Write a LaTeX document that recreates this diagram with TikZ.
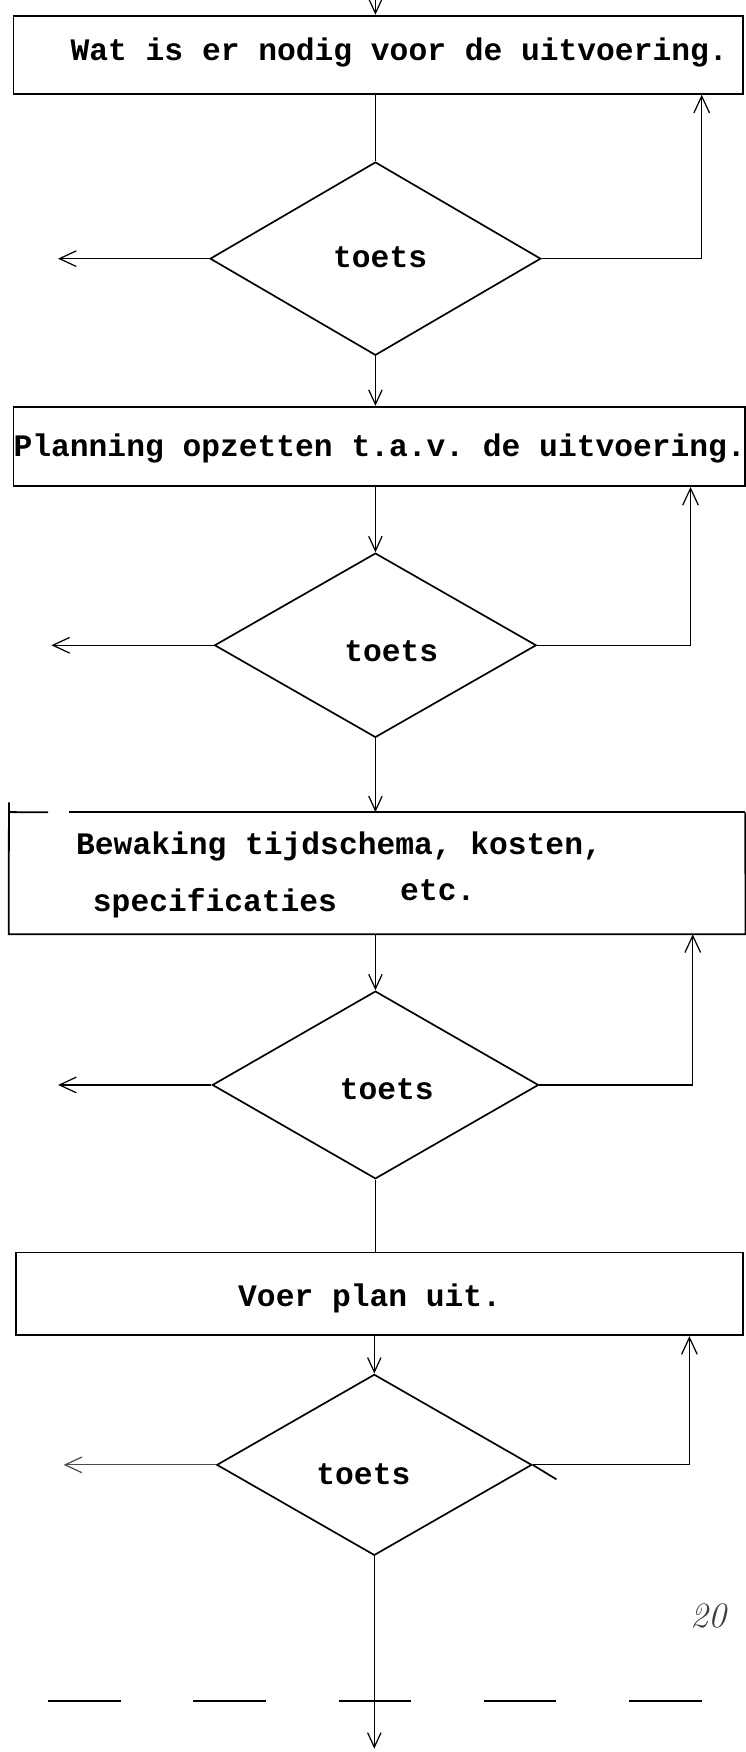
\documentclass[tikz,border=0pt]{standalone}
\usepackage{fontspec}
\setmonofont{Liberation Mono}
\usetikzlibrary{arrows.meta,shapes.geometric}

\begin{document}
\begin{tikzpicture}[x=1pt,y=-1pt,
  boxline/.style={line width=1.6pt},
  boxframe/.style={rectangle,draw,boxline,inner sep=0pt},
  boxshape/.style={rectangle,inner sep=0pt},
  check/.style={diamond,draw,line width=1.5pt,inner sep=0pt},
  txt/.style={font=\ttfamily\bfseries\fontsize{28}{28}\selectfont,inner sep=0pt,anchor=base west},
  flow/.style={line width=1.1pt},
  arr/.style={flow,-{Straight Barb[length=13pt,width=12pt]}},
  back/.style={flow,-{Straight Barb[length=15pt,width=14pt]}}]

\useasboundingbox (0,0) rectangle (667,1568);

% step 1
\node[boxframe,minimum width=653pt,minimum height=70pt] (B1) at (338.5,49) {};
\node[txt] (T1) at (63,54) {Wat is er nodig voor de uitvoering.};
\node[check,minimum width=296pt,minimum height=173pt] (D1) at (336,231.5) {};
\node[txt] (K1) at (298,239) {toets};

% step 2
\node[boxframe,minimum width=655pt,minimum height=71pt] (B2) at (339.5,399.5) {};
\node[txt] (T2) at (12,409) {Planning opzetten t.a.v. de uitvoering.};
\node[check,minimum width=288pt,minimum height=165pt] (D2) at (336,577.5) {};
\node[txt] (K2) at (308,592) {toets};

% step 3: the frame is drawn by hand, with a gap in its top edge
\node[boxshape,minimum width=659pt,minimum height=109pt] (B3) at (337.5,781.5) {};
\coordinate (g0) at (8,718);
\coordinate (g1) at (43,727);
\coordinate (g2) at (62,727);
\coordinate (g3) at (667,727);
\draw[boxline] (g0) -- (B3.south west) -- (B3.south east) -- (g3);
\draw[boxline] (B3.north west) -- (g1);
\draw[boxline] (g2) -- (g3);
\node[txt] (T3a) at (68,765) {Bewaking tijdschema, kosten,};
\node[txt] (T3b) at (83,816) {specificaties};
\node[txt] (T3c) at (358,806) {etc.};
\node[check,minimum width=292pt,minimum height=168pt] (D3) at (336,971) {};
\node[txt] (K3) at (304,984) {toets};

% step 4
\node[boxframe,minimum width=651pt,minimum height=74pt] (B4) at (339.5,1158) {};
\node[txt] (T4) at (213,1169) {Voer plan uit.};
\node[check,minimum width=282pt,minimum height=162pt] (D4) at (335,1311) {};
\node[txt] (K4) at (283,1329) {toets};
\coordinate (D4x) at (498,1324);
\draw[line width=1.5pt] (D4.east) -- (D4x);

% main flow
\coordinate (in) at (336,0);
\coordinate (out) at (336,1565);
\draw[arr] (in) -- (B1.north -| in);
\draw[flow] (B1.south -| D1.north) -- (D1.north);
\draw[arr] (D1.south) -- (B2.north -| D1.south);
\draw[arr] (B2.south -| D2.north) -- (D2.north);
\draw[arr] (D2.south) -- (B3.north -| D2.south);
\draw[arr] (B3.south -| D3.north) -- (D3.north);
\draw[flow] (D3.south) -- (B4.north -| D3.south);
\draw[arr] (B4.south -| D4.north) -- (D4.north);
\draw[arr] (D4.south) -- (D4.south |- out);

% exits to the left
\coordinate (L1) at (52,0);
\coordinate (L2) at (46,0);
\coordinate (L3) at (52,0);
\coordinate (L4) at (57,0);
\draw[back] (D1.west) -- (D1.west -| L1);
\draw[back] (D2.west) -- (D2.west -| L2);
\draw[back] (D3.west) -- (D3.west -| L3);
\draw[back,draw=black!70] (D4.west) -- (D4.west -| L4);

% loops back to the step above
\coordinate (R1) at (628,0);
\coordinate (R2) at (618,0);
\coordinate (R3) at (620,0);
\coordinate (R4) at (617,0);
\draw[back] (D1.east) -| (B1.south -| R1);
\draw[back] (D2.east) -| (B2.south -| R2);
\draw[back] (D3.east) -| (B3.south -| R3);
\draw[back] (D4.east) -| (B4.south -| R4);

% cut line
\coordinate (c1) at (43,1522);
\coordinate (c2) at (630,1522);
\draw[line width=1.6pt,dash pattern=on 65pt off 65pt] (c1) -- (c2);

% page number
\node[font=\itshape\fontsize{32}{32}\selectfont,text=black!75] (pg) at (634,1446) {20};
\end{tikzpicture}
\end{document}
